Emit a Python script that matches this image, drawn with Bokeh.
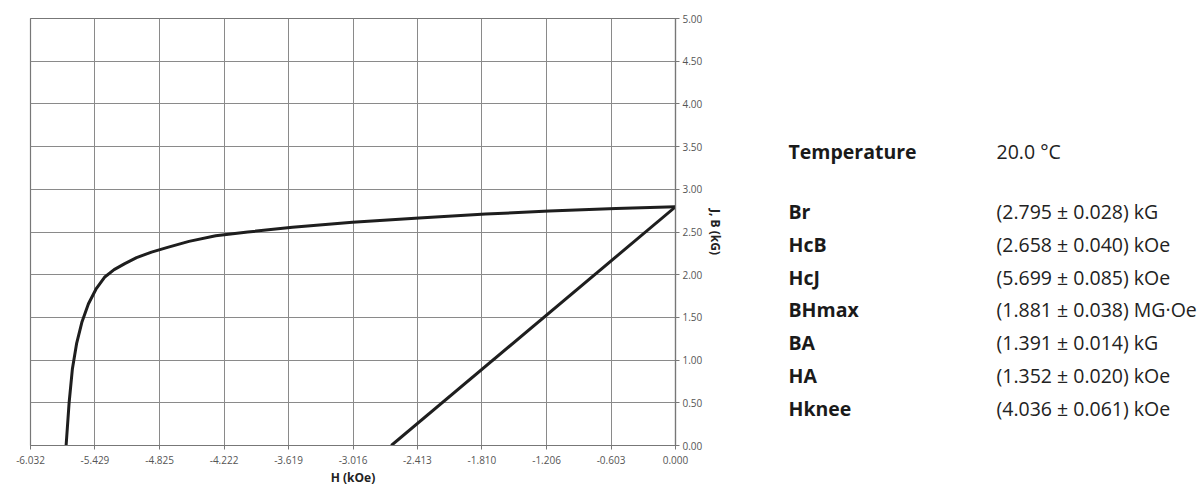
from bokeh.plotting import figure
from bokeh.models import Range1d, FixedTicker, ColumnDataSource
from bokeh.layouts import row
from bokeh.core.properties import value
from bokeh.embed import file_html
from bokeh.resources import INLINE

# ---- data ----
x_tick_labels = ["-6.032", "-5.429", "-4.825", "-4.222", "-3.619", "-3.016",
                 "-2.413", "-1.810", "-1.206", "-0.603", "0.000"]
y_tick_labels = ["0.00", "0.50", "1.00", "1.50", "2.00", "2.50",
                 "3.00", "3.50", "4.00", "4.50", "5.00"]

# intrinsic (J) demagnetisation curve, H in kOe, J in kG
j_H = [-5.699, -5.671, -5.640, -5.600, -5.550, -5.490, -5.420, -5.340, -5.250,
       -5.150, -5.040, -4.900, -4.750, -4.550, -4.300, -4.000, -3.582, -3.021,
       -2.398, -1.775, -1.182, -0.558, 0.000]
j_B = [0.000, 0.500, 0.900, 1.200, 1.450, 1.660, 1.830, 1.970, 2.060,
       2.130, 2.200, 2.265, 2.320, 2.390, 2.455, 2.500, 2.555, 2.615,
       2.665, 2.710, 2.745, 2.775, 2.795]

# normal (B) curve
b_H = [-2.658, 0.000]
b_B = [0.000, 2.795]

param_names = ["Temperature", "Br", "HcB", "HcJ", "BHmax", "BA", "HA", "Hknee"]
param_values = ["20.0 °C", "(2.795 ± 0.028) kG", "(2.658 ± 0.040) kOe",
                "(5.699 ± 0.085) kOe", "(1.881 ± 0.038) MG·Oe",
                "(1.391 ± 0.014) kG", "(1.352 ± 0.020) kOe",
                "(4.036 ± 0.061) kOe"]

FONT = "Open Sans"
grid_col = "#8a8a8a"

# ---- chart ----
p = figure(width=760, height=488,
           x_range=Range1d(float(x_tick_labels[0]), float(x_tick_labels[-1])),
           y_range=Range1d(float(y_tick_labels[0]), float(y_tick_labels[-1])),
           y_axis_location="right",
           output_backend="svg", toolbar_location=None,
           min_border_left=30, min_border_top=18, min_border_right=85,
           min_border_bottom=0)

x_ticks = [float(s) for s in x_tick_labels]
y_ticks = [float(s) for s in y_tick_labels]
p.xaxis.ticker = FixedTicker(ticks=x_ticks)
p.yaxis.ticker = FixedTicker(ticks=y_ticks)
p.xaxis.major_label_overrides = {t: s for t, s in zip(x_ticks, x_tick_labels)}
p.yaxis.major_label_overrides = {t: s for t, s in zip(y_ticks, y_tick_labels)}

p.xaxis.axis_label = "H (kOe)"
p.yaxis.axis_label = "J, B (kG)"

for ax in (p.xaxis, p.yaxis):
    ax.axis_label_text_font = FONT
    ax.axis_label_text_font_style = "bold"
    ax.axis_label_text_font_size = "12px"
    ax.axis_label_text_color = "#222222"
    ax.axis_label_standoff = 2
    ax.major_label_text_font = FONT
    ax.major_label_text_font_size = "10px"
    ax.major_label_text_color = "#555555"
    ax.major_tick_in = 0
    ax.major_tick_out = 4
    ax.minor_tick_in = 0
    ax.minor_tick_out = 0
    ax.major_tick_line_color = "#777777"
    ax.axis_line_color = "#777777"
    ax.axis_line_width = 1.2
p.xaxis.major_label_standoff = 6
p.yaxis.major_label_standoff = 3

p.grid.grid_line_color = grid_col
p.grid.grid_line_width = 1
p.xgrid.ticker = FixedTicker(ticks=x_ticks)
p.ygrid.ticker = FixedTicker(ticks=y_ticks)
p.outline_line_color = "#777777"
p.outline_line_width = 1.2

p.line(x=j_H, y=j_B, line_color="#1e1e1e", line_width=3)
p.line(x=b_H, y=b_B, line_color="#1e1e1e", line_width=3)

# ---- parameter table (frame is aligned with the chart frame, shares its y range) ----
W2 = 440
p2 = figure(width=W2, height=488, x_range=Range1d(0, W2), y_range=p.y_range,
            x_axis_location=None, y_axis_location=None,
            output_backend="svg", toolbar_location=None,
            min_border_left=0, min_border_right=0, min_border_top=18,
            min_border_bottom=0, outline_line_color=None)
p2.grid.visible = False

row_step = 0.384
row_y = [3.44] + [2.74 - row_step * i for i in range(len(param_names) - 1)]
src = ColumnDataSource(dict(name=param_names, val=param_values,
                            xn=[28] * len(param_names),
                            xv=[236] * len(param_names), y=row_y))
p2.text(x="xn", y="y", text="name", source=src, text_font=value(FONT),
        text_font_style="bold", text_font_size="19.5px", text_baseline="middle",
        text_color="#1a1a1a")
p2.text(x="xv", y="y", text="val", source=src, text_font=value(FONT),
        text_font_size="19.5px", text_baseline="middle", text_color="#222222")

layout = row(p, p2)
open("out.html", "w").write(file_html(layout, INLINE))
